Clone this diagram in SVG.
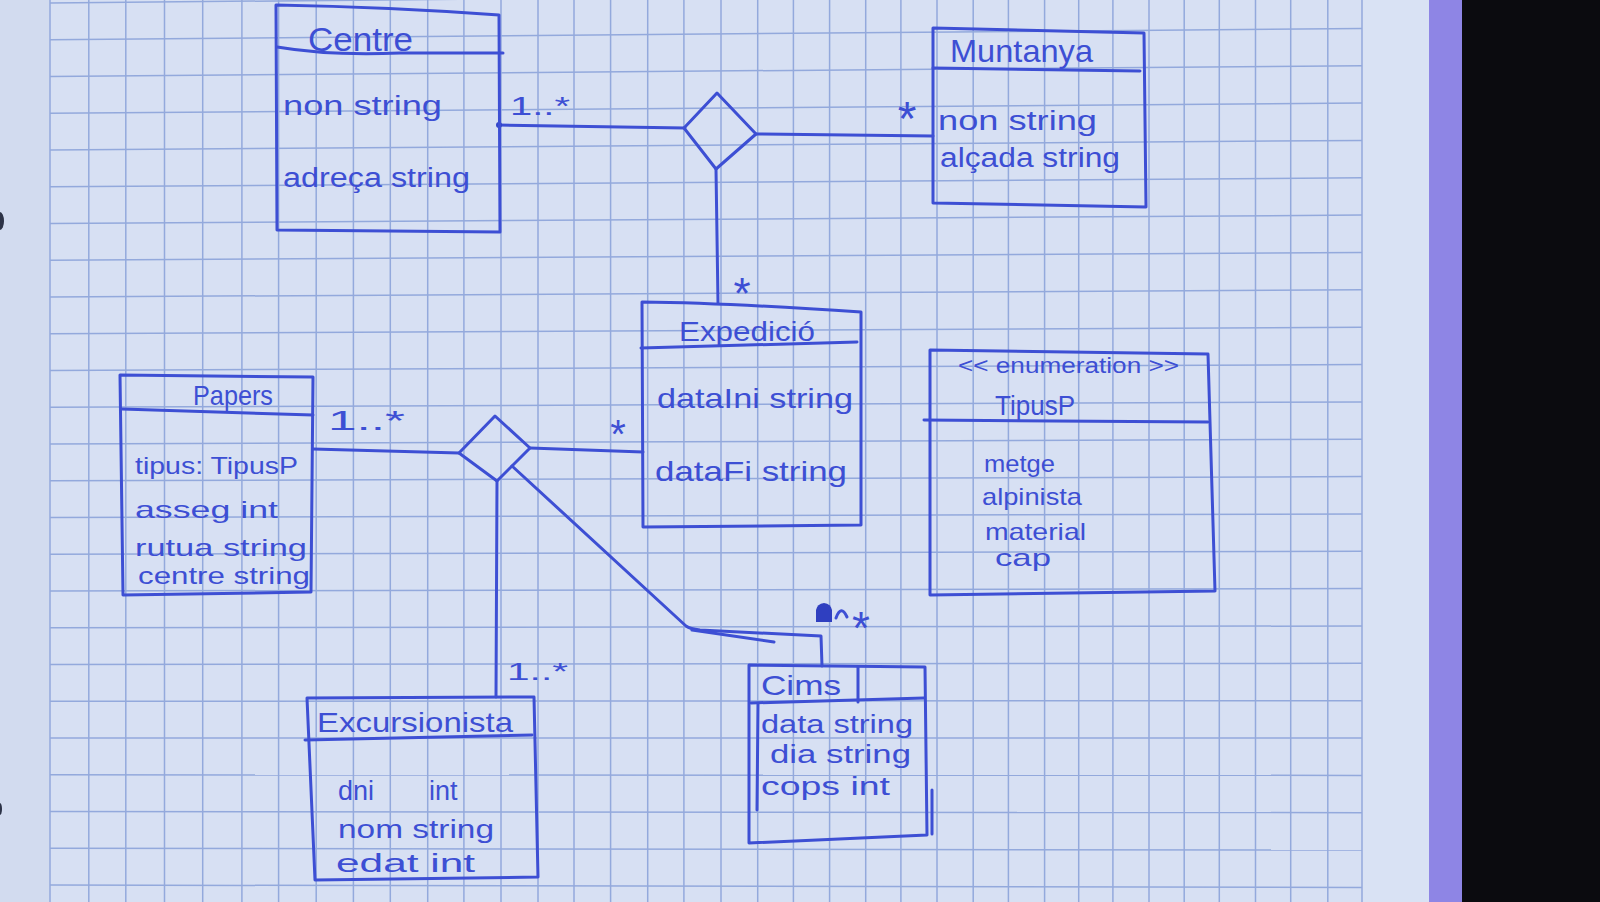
<svg xmlns="http://www.w3.org/2000/svg" width="1600" height="902" viewBox="0 0 1600 902">
<defs>
<style>
.ink{fill:none;stroke:#3d4fd4;stroke-width:3;stroke-linecap:round;stroke-linejoin:round}
.dot{fill:#3346c8}
.t{font-family:"Liberation Sans",Arial,sans-serif;fill:#3d4fd4}
.star{font-family:"Liberation Sans",Arial,sans-serif;fill:#3d4fd4;text-anchor:middle}
#grid line{stroke:#93a9dc;stroke-width:1.5}
</style>
</defs>
<rect x="0" y="0" width="1430" height="902" fill="#d7e0f3"/>
<rect x="0" y="0" width="50" height="902" fill="#d2dbef"/>
<rect x="1362" y="0" width="68" height="902" fill="#d9e2f4"/>
<g id="grid">
<line x1="50" y1="0" x2="50" y2="902"/><line x1="88.8" y1="0" x2="88.8" y2="902"/><line x1="125.8" y1="0" x2="125.8" y2="902"/><line x1="164.5" y1="0" x2="164.5" y2="902"/><line x1="202.7" y1="0" x2="202.7" y2="902"/><line x1="241.9" y1="0" x2="241.9" y2="902"/><line x1="278.6" y1="0" x2="278.6" y2="902"/><line x1="316.2" y1="0" x2="316.2" y2="902"/><line x1="353.4" y1="0" x2="353.4" y2="902"/><line x1="390.3" y1="0" x2="390.3" y2="902"/><line x1="427.7" y1="0" x2="427.7" y2="902"/><line x1="463.9" y1="0" x2="463.9" y2="902"/><line x1="501" y1="0" x2="501" y2="902"/><line x1="538" y1="0" x2="538" y2="902"/><line x1="574" y1="0" x2="574" y2="902"/><line x1="610.6" y1="0" x2="610.6" y2="902"/><line x1="647.7" y1="0" x2="647.7" y2="902"/><line x1="683.9" y1="0" x2="683.9" y2="902"/><line x1="721" y1="0" x2="721" y2="902"/><line x1="757.7" y1="0" x2="757.7" y2="902"/><line x1="793.4" y1="0" x2="793.4" y2="902"/><line x1="829.6" y1="0" x2="829.6" y2="902"/><line x1="865.7" y1="0" x2="865.7" y2="902"/><line x1="900.9" y1="0" x2="900.9" y2="902"/><line x1="937" y1="0" x2="937" y2="902"/><line x1="973.2" y1="0" x2="973.2" y2="902"/><line x1="1008.4" y1="0" x2="1008.4" y2="902"/><line x1="1044.6" y1="0" x2="1044.6" y2="902"/><line x1="1078.7" y1="0" x2="1078.7" y2="902"/><line x1="1112.9" y1="0" x2="1112.9" y2="902"/><line x1="1149" y1="0" x2="1149" y2="902"/><line x1="1184.2" y1="0" x2="1184.2" y2="902"/><line x1="1219.3" y1="0" x2="1219.3" y2="902"/><line x1="1255.5" y1="0" x2="1255.5" y2="902"/><line x1="1290.7" y1="0" x2="1290.7" y2="902"/><line x1="1327.8" y1="0" x2="1327.8" y2="902"/><line x1="1362" y1="0" x2="1362" y2="902"/>
<line x1="50" y1="3" x2="1362" y2="-9"/><line x1="50" y1="39.8" x2="1362" y2="28.4"/><line x1="50" y1="76.5" x2="1362" y2="65.7"/><line x1="50" y1="113.3" x2="1362" y2="103.1"/><line x1="50" y1="150" x2="1362" y2="140.4"/><line x1="50" y1="186.8" x2="1362" y2="177.8"/><line x1="50" y1="223.5" x2="1362" y2="215.1"/><line x1="50" y1="260.3" x2="1362" y2="252.5"/><line x1="50" y1="297" x2="1362" y2="289.8"/><line x1="50" y1="333.8" x2="1362" y2="327.2"/><line x1="50" y1="370.5" x2="1362" y2="364.5"/><line x1="50" y1="407.3" x2="1362" y2="401.9"/><line x1="50" y1="444" x2="1362" y2="439.2"/><line x1="50" y1="480.8" x2="1362" y2="476.6"/><line x1="50" y1="517.5" x2="1362" y2="513.9"/><line x1="50" y1="554.3" x2="1362" y2="551.3"/><line x1="50" y1="591" x2="1362" y2="588.6"/><line x1="50" y1="627.8" x2="1362" y2="626"/><line x1="50" y1="664.5" x2="1362" y2="663.3"/><line x1="50" y1="701.3" x2="1362" y2="700.7"/><line x1="50" y1="738" x2="1362" y2="738"/><line x1="50" y1="774.8" x2="1362" y2="775.4"/><line x1="50" y1="811.5" x2="1362" y2="812.7"/><line x1="50" y1="848.3" x2="1362" y2="850.1"/><line x1="50" y1="885" x2="1362" y2="887.4"/>
</g>
<rect x="1429" y="0" width="34" height="902" fill="#8e85e5"/>
<rect x="1462" y="0" width="138" height="902" fill="#0b0b0f"/>
<ellipse cx="0" cy="221" rx="4" ry="9" fill="#2d3347"/>
<ellipse cx="0" cy="809" rx="2" ry="6" fill="#2d3347"/>

<g id="connectors" font-size="24">
<path class="ink" d="M499,125 L685,128"/>
<circle class="dot" cx="499" cy="125" r="3"/>
<polygon class="ink" points="684,128 717,93 756,134 716,169"/>
<path class="ink" d="M756,134 L933,136"/>
<path class="ink" d="M716,169 L718,303"/>
<path class="ink" d="M313,449 L459,453"/>
<polygon class="ink" points="459,453 495,416 530,448 497,481"/>
<path class="ink" d="M530,448 L643,452"/>
<path class="ink" d="M497,481 L496,697"/>
<path class="ink" d="M512,466 L686,626 Q690,629 700,630 L821,636 L822,666"/>
<path class="ink" d="M692,630 L774,642"/>
<path d="M816,622 L816,610 Q817,604 824,603 Q831,604 832,610 L832,622 Z" fill="#2f3fc0"/>
<path class="ink" d="M836,618 Q841,604 847,617"/>
<text class="t" x="510" y="115" font-size="26" textLength="60" lengthAdjust="spacingAndGlyphs">1..*</text>
<text class="star" x="907" y="135" font-size="48">*</text>
<text class="star" x="742" y="309" font-size="44">*</text>
<text class="star" x="618" y="448" font-size="40">*</text>
<text class="t" x="328" y="430" font-size="28" textLength="77" lengthAdjust="spacingAndGlyphs">1..*</text>
<text class="t" x="507" y="680" font-size="24" textLength="61" lengthAdjust="spacingAndGlyphs">1..*</text>
<text class="star" x="861" y="644" font-size="46">*</text>
</g>

<g id="centre" font-size="24">
<path class="ink" d="M276,5 Q390,7 499,15 L500,232 L277,230 Z"/>
<path class="ink" d="M277,47 Q330,56 400,53 L503,53"/>
<text class="t" x="308" y="51" font-size="34" textLength="105" lengthAdjust="spacingAndGlyphs">Centre</text>
<text class="t" x="283" y="115" font-size="27" textLength="159" lengthAdjust="spacingAndGlyphs">non string</text>
<text class="t" x="283" y="187" font-size="27" textLength="187" lengthAdjust="spacingAndGlyphs">adreça string</text>
</g>

<g id="muntanya" font-size="24">
<path class="ink" d="M933,28 L1144,33 L1146,207 L933,203 Z"/>
<path class="ink" d="M933,68 L1140,71"/>
<text class="t" x="950" y="62" font-size="32" textLength="143" lengthAdjust="spacingAndGlyphs">Muntanya</text>
<text class="t" x="938" y="130" font-size="27" textLength="159" lengthAdjust="spacingAndGlyphs">non string</text>
<text class="t" x="940" y="167" font-size="27" textLength="180" lengthAdjust="spacingAndGlyphs">alçada string</text>
</g>

<g id="expedicio" font-size="24">
<path class="ink" d="M642,302 Q730,303 861,312 L861,525 L643,527 Z"/>
<path class="ink" d="M641,348 L857,342"/>
<text class="t" x="679" y="341" font-size="28" textLength="136" lengthAdjust="spacingAndGlyphs">Expedició</text>
<text class="t" x="657" y="408" font-size="28" textLength="196" lengthAdjust="spacingAndGlyphs">dataIni string</text>
<text class="t" x="655" y="481" font-size="28" textLength="192" lengthAdjust="spacingAndGlyphs">dataFi string</text>
</g>

<g id="tipusp" font-size="24">
<path class="ink" d="M930,350 L1208,354 L1215,591 L930,595 Z"/>
<path class="ink" d="M924,420 L1208,422"/>
<text class="t" x="958" y="373" font-size="22" textLength="221" lengthAdjust="spacingAndGlyphs">&lt;&lt; enumeration &gt;&gt;</text>
<text class="t" x="995" y="415" font-size="28" textLength="80" lengthAdjust="spacingAndGlyphs">TipusP</text>
<text class="t" x="984" y="472" textLength="71" lengthAdjust="spacingAndGlyphs">metge</text>
<text class="t" x="982" y="505" textLength="100" lengthAdjust="spacingAndGlyphs">alpinista</text>
<text class="t" x="985" y="540" textLength="101" lengthAdjust="spacingAndGlyphs">material</text>
<text class="t" x="995" y="566" textLength="56" lengthAdjust="spacingAndGlyphs">cap</text>
</g>

<g id="papers" font-size="24">
<path class="ink" d="M120,375 L313,377 L311,592 L123,595 Z"/>
<path class="ink" d="M122,409 L313,415"/>
<text class="t" x="193" y="405" font-size="28" textLength="80" lengthAdjust="spacingAndGlyphs">Papers</text>
<text class="t" x="135" y="474" textLength="163" lengthAdjust="spacingAndGlyphs">tipus: TipusP</text>
<text class="t" x="135" y="518" textLength="143" lengthAdjust="spacingAndGlyphs">asseg int</text>
<text class="t" x="135" y="556" textLength="172" lengthAdjust="spacingAndGlyphs">rutua string</text>
<text class="t" x="138" y="584" textLength="172" lengthAdjust="spacingAndGlyphs">centre string</text>
</g>

<g id="excursionista" font-size="24">
<path class="ink" d="M307,698 L534,697 L538,877 L315,880 Z"/>
<path class="ink" d="M305,740 L532,735"/>
<text class="t" x="317" y="732" font-size="28" textLength="196" lengthAdjust="spacingAndGlyphs">Excursionista</text>
<text class="t" x="338" y="800" font-size="27">dni <tspan x="429">int</tspan></text>
<text class="t" x="338" y="838" font-size="26" textLength="156" lengthAdjust="spacingAndGlyphs">nom string</text>
<text class="t" x="336" y="872" font-size="26" textLength="139" lengthAdjust="spacingAndGlyphs">edat int</text>
</g>

<g id="cims" font-size="24">
<path class="ink" d="M749,665 L925,667 L927,835 L749,843 Z"/>
<path class="ink" d="M858,667 L858,702"/>
<path class="ink" d="M751,703 L924,698"/>
<path class="ink" d="M758,704 L757,810"/>
<path class="ink" d="M932,790 L932,834"/>
<text class="t" x="761" y="695" font-size="28" textLength="80" lengthAdjust="spacingAndGlyphs">Cims</text>
<text class="t" x="761" y="733" font-size="25" textLength="152" lengthAdjust="spacingAndGlyphs">data string</text>
<text class="t" x="770" y="763" font-size="25" textLength="141" lengthAdjust="spacingAndGlyphs">dia string</text>
<text class="t" x="761" y="795" font-size="25" textLength="129" lengthAdjust="spacingAndGlyphs">cops int</text>
</g>
</svg>
